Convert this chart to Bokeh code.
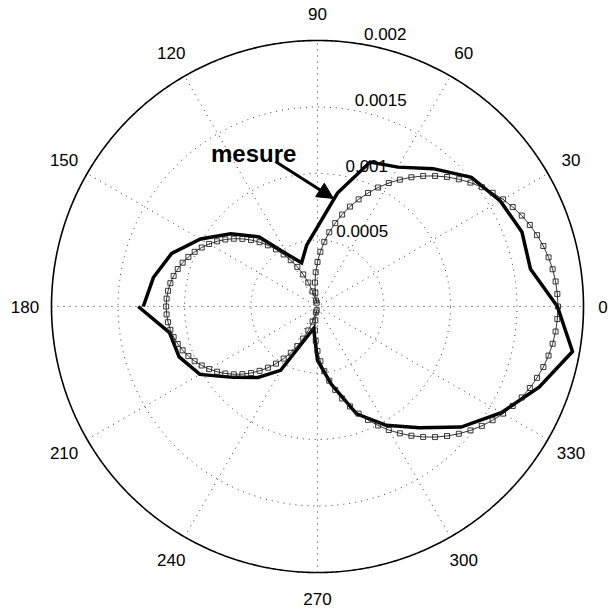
import numpy as np
from bokeh.plotting import figure
from bokeh.models import Arrow, NormalHead, Label
from bokeh.core.properties import value
from bokeh.embed import file_html
from bokeh.resources import INLINE

# ---------------- data (radii in units of 1e-3) ----------------
theo_angle_deg = list(range(0, 361, 3))
theo_r_e3 = [1.808, 1.806, 1.800, 1.790, 1.776, 1.758, 1.736, 1.710, 1.681, 1.647,
             1.611, 1.570, 1.527, 1.480, 1.430, 1.377, 1.321, 1.262, 1.201, 1.137,
             1.072, 1.004, 0.934, 0.863, 0.790, 0.716, 0.641, 0.565, 0.489, 0.412,
             0.335, 0.258, 0.181, 0.105, 0.029, 0.046, 0.120, 0.193, 0.264, 0.334,
             0.402, 0.467, 0.531, 0.592, 0.651, 0.707, 0.760, 0.810, 0.857, 0.900,
             0.941, 0.977, 1.011, 1.040, 1.066, 1.088, 1.106, 1.120, 1.130, 1.136,
             1.138,
             1.136, 1.130, 1.120, 1.106, 1.088, 1.066, 1.040, 1.011, 0.977, 0.941,
             0.900, 0.857, 0.810, 0.760, 0.707, 0.651, 0.592, 0.531, 0.467, 0.402,
             0.334, 0.264, 0.193, 0.120, 0.046, 0.029, 0.105, 0.181, 0.258, 0.335,
             0.412, 0.489, 0.565, 0.641, 0.716, 0.790, 0.863, 0.934, 1.004, 1.072,
             1.137, 1.201, 1.262, 1.321, 1.377, 1.430, 1.480, 1.527, 1.570, 1.611,
             1.647, 1.681, 1.710, 1.736, 1.758, 1.776, 1.790, 1.800, 1.806, 1.808]

meas_angle_deg = [180, 170, 160, 150, 140, 130, 120, 110, 100, 90, 80, 70, 60, 50, 40,
                  30, 20, 10, 0, -10, -20, -30, -40, -50, -60, -70, -80, -90, -100,
                  -110, -120, -130, -140, -150, -160, -170, -180]
meas_r_e3 = [1.310, 1.253, 1.167, 1.015, 0.851, 0.683, 0.452, 0.350, 0.468, 0.598,
             0.866, 1.156, 1.210, 1.353, 1.510, 1.587, 1.636, 1.626, 1.804, 1.947,
             1.773, 1.596, 1.410, 1.190, 1.032, 0.859, 0.592, 0.405, 0.168, 0.252,
             0.554, 0.697, 0.829, 1.021, 1.107, 1.130, 1.348]

ring_values = [0.0005, 0.001, 0.0015, 0.002]
ring_labels = ["0.0005", "0.001", "0.0015", "0.002"]
spoke_angles = [0, 30, 60, 90, 120, 150]
angle_label_deg = [0, 30, 60, 90, 120, 150, 180, 210, 240, 270, 300, 330]
angle_labels = ["0", "30", "60", "90", "120", "150", "180", "210", "240", "270", "300", "330"]
annotation_text = "mesure"

UNIT = 1e-3
RMAX = 0.002

# ---------------- layout ----------------
W, H = 608, 610
CX, CY = 317.0, 306.0          # canvas pixel position of the pole
SCALE = 133000.0               # pixels per data unit
x0 = (0 - CX) / SCALE
y1 = (CY - 0) / SCALE
xr = (x0, x0 + W / SCALE)
yr = (y1 - H / SCALE, y1)

p = figure(width=W, height=H, x_range=xr, y_range=yr, output_backend="svg",
           toolbar_location=None, min_border=0, background_fill_color="white",
           border_fill_color="white")
p.axis.visible = False
p.grid.visible = False
p.outline_line_color = None

FONT = "Liberation Sans"

# grid rings
t = np.linspace(0, 2 * np.pi, 721)
for v in ring_values:
    if v < RMAX:
        p.line(v * np.cos(t), v * np.sin(t), line_color="#333333", line_width=1,
               line_dash="1 5")
    else:
        p.line(v * np.cos(t), v * np.sin(t), line_color="black", line_width=1.6)

# spokes
sx, sy = [], []
for a in spoke_angles:
    ar = np.deg2rad(a)
    sx.append([-RMAX * np.cos(ar), RMAX * np.cos(ar)])
    sy.append([-RMAX * np.sin(ar), RMAX * np.sin(ar)])
p.multi_line(sx, sy, line_color="#333333", line_width=1, line_dash="1 5")

# angle labels (the "0" one is nudged so it stays inside the canvas)
la = np.deg2rad(angle_label_deg)
xoff = [-7 if lab == "0" else 0 for lab in angle_labels]
p.text(x=list(1.1 * RMAX * np.cos(la)), y=list(1.1 * RMAX * np.sin(la)), text=angle_labels,
       x_offset=xoff, text_font=value(FONT), text_font_size="17px", text_align="center",
       text_baseline="middle", text_color="black")

# ring labels (at 82 degrees, like the classic polar plot)
c82, s82 = np.cos(np.deg2rad(82)), np.sin(np.deg2rad(82))
rinc = ring_values[0]
rl = np.array(ring_values) + rinc / 20
p.text(x=list(rl * c82), y=list(rl * s82), text=ring_labels, x_offset=9,
       text_font=value(FONT), text_font_size="17px", text_align="left",
       text_baseline="bottom", text_color="black")

# measured curve
ma = np.deg2rad(meas_angle_deg)
mr = np.array(meas_r_e3) * UNIT
p.line(mr * np.cos(ma), mr * np.sin(ma), line_color="black", line_width=3.5,
       line_join="miter")

# theoretical curve
ta = np.deg2rad(theo_angle_deg)
tr = np.array(theo_r_e3) * UNIT
tx, ty = tr * np.cos(ta), tr * np.sin(ta)
p.line(tx, ty, line_color="black", line_width=0.8)
p.scatter(tx[:-1], ty[:-1], marker="square", size=5, fill_color=None,
          line_color="#222222", line_width=0.9)

# annotation
p.add_layout(Label(x=-0.000801, y=0.001150, text=annotation_text, text_font=FONT,
                   text_font_style="bold", text_font_size="24px",
                   text_baseline="alphabetic", text_color="black"))
p.add_layout(Arrow(end=NormalHead(size=16, fill_color="black", line_color="black"),
                   x_start=-0.000316, y_start=0.00109, x_end=0.00012, y_end=0.000812,
                   line_width=3, line_color="black"))

open("out.html", "w").write(file_html(p, INLINE))
